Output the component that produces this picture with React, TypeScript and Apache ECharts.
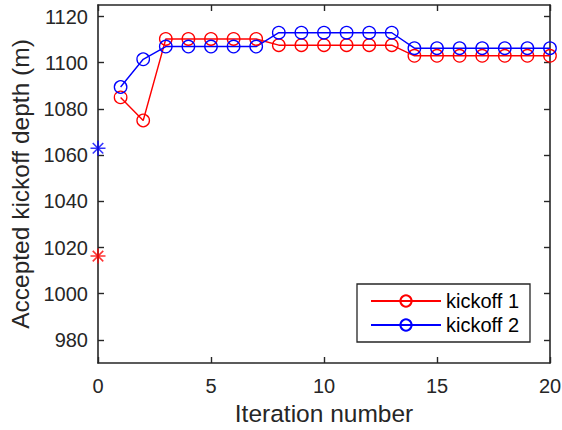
import React, { useEffect, useRef } from "react";
import * as echarts from "echarts";

const iterations = [1, 2, 3, 4, 5, 6, 7, 8, 9, 10, 11, 12, 13, 14, 15, 16, 17, 18, 19, 20];
const kickoff1 = [1085, 1075, 1110.3, 1110.3, 1110.3, 1110.3, 1110.3, 1107.6, 1107.6, 1107.6, 1107.6, 1107.6, 1107.6, 1103, 1103, 1103, 1103, 1103, 1103, 1103];
const kickoff2 = [1089.5, 1101.5, 1107, 1107, 1107, 1107, 1107, 1113, 1113, 1113, 1113, 1113, 1113, 1106.3, 1106.3, 1106.3, 1106.3, 1106.3, 1106.3, 1106.3];
const initial1 = 1016.3;
const initial2 = 1063;
const xTicks = [0, 5, 10, 15, 20];
const yTicks = [980, 1000, 1020, 1040, 1060, 1080, 1100, 1120];
const seriesNames = ["kickoff 1", "kickoff 2"];

const FONT = "'Liberation Sans', Arial, sans-serif";
const AX = "#262626";
const STAR = "path://M0,-10L0,10M-10,0L10,0M-7,-7L7,7M-7,7L7,-7";

export default function App() {
  const ref = useRef<HTMLDivElement>(null);
  useEffect(() => {
    if (!ref.current) return;
    const chart = echarts.init(ref.current, null, { renderer: "svg" });
    const axisLine = { show: true, onZero: false, lineStyle: { color: AX, width: 1.6 } };
    const xBase = {
      type: "value",
      min: 0,
      max: 20,
      splitLine: { show: false },
      axisLine,
      axisTick: { show: true, inside: true, length: 6, customValues: xTicks, lineStyle: { color: AX, width: 1.4 } },
    };
    const yBase = {
      type: "value",
      min: 970,
      max: 1125,
      splitLine: { show: false },
      axisLine,
      axisTick: { show: true, inside: true, length: 6, customValues: yTicks, lineStyle: { color: AX, width: 1.4 } },
    };
    const mk = (name: string, vals: number[], color: string) => ({
      name,
      type: "line",
      data: iterations.map((x, i) => [x, vals[i]]),
      symbol: "circle",
      symbolSize: 12.5,
      showSymbol: true,
      lineStyle: { color, width: 1.4 },
      itemStyle: { color: "rgba(0,0,0,0)", borderColor: color, borderWidth: 1.3 },
      emphasis: { disabled: true },
      z: 3,
    });
    const star = (v: number, color: string) => ({
      type: "scatter",
      data: [[0, v]],
      symbol: STAR,
      symbolSize: 15,
      clip: false,
      itemStyle: { color: "rgba(0,0,0,0)", borderColor: color, borderWidth: 1.6 },
      emphasis: { disabled: true },
      z: 5,
    });
    chart.setOption({
      animation: false,
      backgroundColor: "#ffffff",
      textStyle: { fontFamily: FONT },
      grid: { left: 98, right: 12, top: 5, bottom: 67, outerBoundsMode: "none", containLabel: false },
      legend: {
        data: seriesNames,
        orient: "vertical",
        left: 357,
        top: 284,
        padding: [7, 11, 7, 13],
        itemWidth: 70,
        itemHeight: 14,
        itemGap: 4,
        borderColor: "#262626",
        borderWidth: 1.3,
        backgroundColor: "#ffffff",
        textStyle: { fontSize: 20, color: "#000", fontFamily: FONT, lineHeight: 20 },
      },
      xAxis: [
        {
          ...xBase,
          position: "bottom",
          axisLabel: { show: true, fontSize: 20, color: AX, margin: 13, fontFamily: FONT, customValues: xTicks, formatter: (v: number) => String(v) },
          name: "Iteration number",
          nameLocation: "middle",
          nameGap: 36,
          nameTextStyle: { fontSize: 24.5, color: AX, fontFamily: FONT },
        },
        { ...xBase, position: "top", axisLabel: { show: false } },
      ],
      yAxis: [
        {
          ...yBase,
          position: "left",
          axisLabel: { show: true, fontSize: 20, color: AX, margin: 10, fontFamily: FONT, customValues: yTicks, formatter: (v: number) => String(v) },
          name: "Accepted kickoff depth (m)",
          nameLocation: "middle",
          nameGap: 58,
          nameTextStyle: { fontSize: 24.5, color: AX, fontFamily: FONT },
        },
        { ...yBase, position: "right", axisLabel: { show: false } },
      ],
      series: [
        mk(seriesNames[0], kickoff1, "#ff0000"),
        mk(seriesNames[1], kickoff2, "#0000ff"),
        star(initial1, "#ff0000"),
        star(initial2, "#0000ff"),
      ],
    });
    return () => chart.dispose();
  }, []);
  return <div ref={ref} style={{ width: 562, height: 430, position: "absolute", left: 0, top: 0, background: "#fff" }} />;
}
